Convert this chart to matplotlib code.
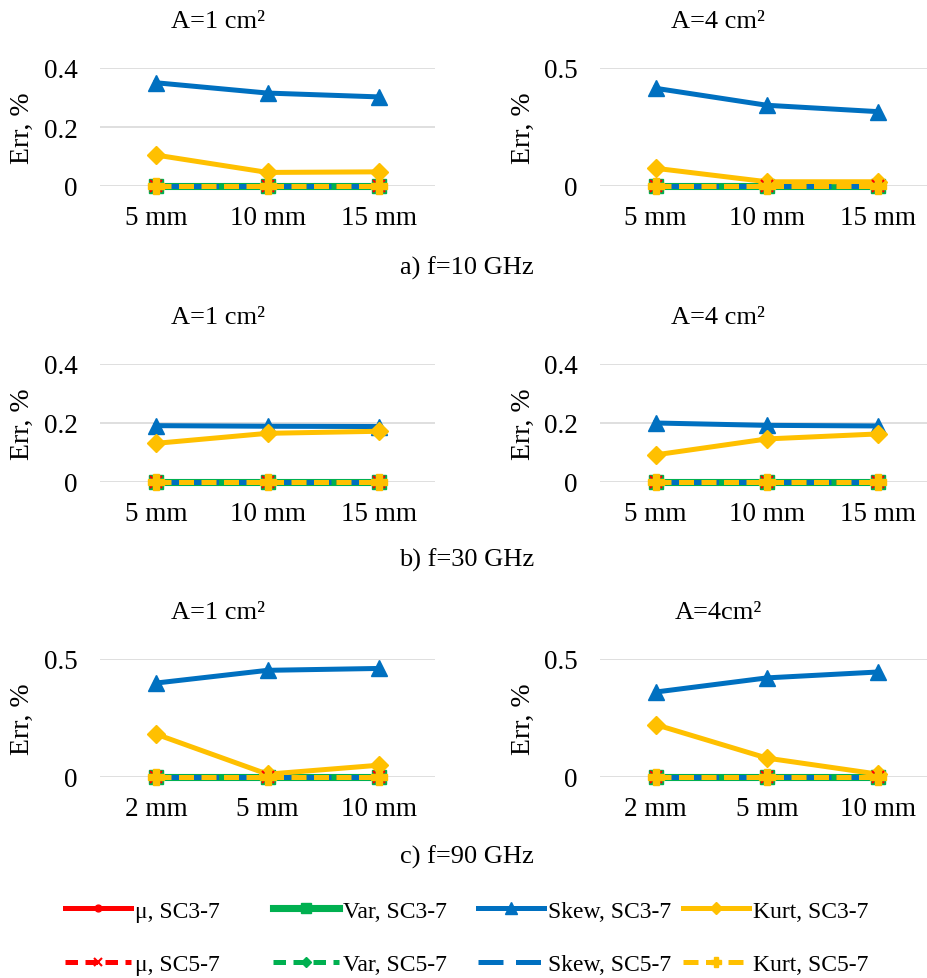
import matplotlib
matplotlib.use("Agg")
import matplotlib.pyplot as plt
import numpy as np

plt.rcParams['font.family'] = ['Liberation Serif', 'DejaVu Serif']

# ---------------- data ----------------
cats_a = ["5 mm", "10 mm", "15 mm"]
cats_b = ["5 mm", "10 mm", "15 mm"]
cats_c = ["2 mm", "5 mm", "10 mm"]

series_names = ["μ, SC3-7", "Var, SC3-7", "Skew, SC3-7", "Kurt, SC3-7",
                "μ, SC5-7", "Var, SC5-7", "Skew, SC5-7", "Kurt, SC5-7"]

# f = 10 GHz
a1_skew3 = [0.350, 0.315, 0.302]
a1_kurt3 = [0.105, 0.046, 0.048]
a4_skew3 = [0.414, 0.342, 0.315]
a4_kurt3 = [0.075, 0.018, 0.018]
# f = 30 GHz
b1_skew3 = [0.191, 0.189, 0.188]
b1_kurt3 = [0.131, 0.165, 0.172]
b4_skew3 = [0.200, 0.192, 0.190]
b4_kurt3 = [0.092, 0.146, 0.163]
# f = 90 GHz
c1_skew3 = [0.398, 0.452, 0.460]
c1_kurt3 = [0.182, 0.012, 0.050]
c4_skew3 = [0.360, 0.420, 0.445]
c4_kurt3 = [0.222, 0.080, 0.012]
# near-zero series (same in every panel)
mu3 = [0.0, 0.0, 0.0]
var3 = [0.0, 0.0, 0.0]
mu5 = [0.0, 0.0, 0.0]
var5 = [0.0, 0.0, 0.0]
skew5 = [0.0, 0.0, 0.0]
kurt5 = [0.0, 0.0, 0.0]

titles = ["A=1 cm²", "A=4 cm²", "A=1 cm²", "A=4 cm²", "A=1 cm²", "A=4cm²"]
captions = ["a) f=10 GHz", "b) f=30 GHz", "c) f=90 GHz"]

RED = "#FF0000"; GREEN = "#00B050"; BLUE = "#0070C0"; YEL = "#FFC000"

W, H = 927, 979
fig = plt.figure(figsize=(W / 100, H / 100), dpi=100)

def rect(x0, x1, ytop, ybot):
    return [x0 / W, 1 - ybot / H, (x1 - x0) / W, (ybot - ytop) / H]

panels = [
    (rect(100, 435, 69, 187), cats_a, a1_skew3, a1_kurt3, 0.4, [0, 0.2, 0.4], ["0", "0.2", "0.4"], 218, 22),
    (rect(600, 934, 69, 187), cats_a, a4_skew3, a4_kurt3, 0.5, [0, 0.5], ["0", "0.5"], 718, 22),
    (rect(100, 435, 365, 483), cats_b, b1_skew3, b1_kurt3, 0.4, [0, 0.2, 0.4], ["0", "0.2", "0.4"], 218, 318),
    (rect(600, 934, 365, 483), cats_b, b4_skew3, b4_kurt3, 0.4, [0, 0.2, 0.4], ["0", "0.2", "0.4"], 718, 318),
    (rect(100, 435, 660, 778), cats_c, c1_skew3, c1_kurt3, 0.5, [0, 0.5], ["0", "0.5"], 218, 613),
    (rect(600, 934, 660, 778), cats_c, c4_skew3, c4_kurt3, 0.5, [0, 0.5], ["0", "0.5"], 718, 613),
]

handles = None
for i, (r, cats, sk3, ku3, ymax, yt, ytl, tx, ty) in enumerate(panels):
    ax = fig.add_axes(r)
    x = np.arange(len(cats))
    lw = 3.6
    h = []
    h.append(ax.plot(x, mu3, color=RED, lw=lw, marker='o', ms=7, clip_on=False, zorder=3)[0])
    h.append(ax.plot(x, var3, color=GREEN, lw=lw + 1.5, marker='s', ms=10, clip_on=False, zorder=3)[0])
    h.append(ax.plot(x, sk3, color=BLUE, lw=lw, marker='^', ms=12, clip_on=False, zorder=3)[0])
    h.append(ax.plot(x, ku3, color=YEL, lw=lw, marker='D', ms=9, clip_on=False, zorder=3)[0])
    h.append(ax.plot(x, mu5, color=RED, lw=lw, ls=(0, (2.5, 1.5)), marker='x', ms=9, mew=1.5, clip_on=False, zorder=3)[0])
    h.append(ax.plot(x, var5, color=GREEN, lw=lw, ls=(0, (2.5, 1.5)), marker='D', ms=7, clip_on=False, zorder=3)[0])
    h.append(ax.plot(x, skew5, color=BLUE, lw=lw, ls=(0, (5, 2.5)), clip_on=False, zorder=3)[0])
    h.append(ax.plot(x, kurt5, color=YEL, lw=lw, ls=(0, (3, 1.5)), marker='P', ms=11, clip_on=False, zorder=3)[0])
    if handles is None:
        handles = h
    ax.set_xlim(-0.5, len(cats) - 0.5)
    ax.set_ylim(0, ymax)
    ax.set_yticks(yt)
    ax.set_yticklabels(ytl)
    ax.set_xticks(x)
    ax.set_xticklabels(cats)
    for s in ax.spines.values():
        s.set_visible(False)
    ax.tick_params(axis='both', length=0, labelsize=19.5)
    ax.tick_params(axis='y', pad=16)
    ax.tick_params(axis='x', pad=14)
    ax.grid(axis='y', color='#D9D9D9', lw=1.2, zorder=0)
    ax.set_axisbelow(True)
    ax.set_facecolor('none')
    ax.set_ylabel("Err, %", fontsize=20)
    ax.yaxis.set_label_coords(((35 if i % 2 == 0 else 536) - r[0] * W) / (r[2] * W), 0.5)
    fig.text(tx / W, 1 - ty / H, titles[i], ha='center', va='center', fontsize=19)

cap_y = [268, 560, 857]
for c, y in zip(captions, cap_y):
    fig.text(467 / W, 1 - y / H, c, ha='center', va='center', fontsize=19)

# legend: four fixed columns of two entries each
col_x = [65, 273, 478, 683]
for k in range(4):
    hh = [handles[k], handles[k + 4]]
    ll = [series_names[k], series_names[k + 4]]
    fig.legend(hh, ll, loc='upper left', bbox_to_anchor=(col_x[k] / W, 1 - 901 / H),
               frameon=False, fontsize=17, handlelength=2.8, handletextpad=0.15,
               borderpad=0, borderaxespad=0, labelspacing=1.35, markerscale=0.7)

fig.savefig("out.png", dpi=100)
